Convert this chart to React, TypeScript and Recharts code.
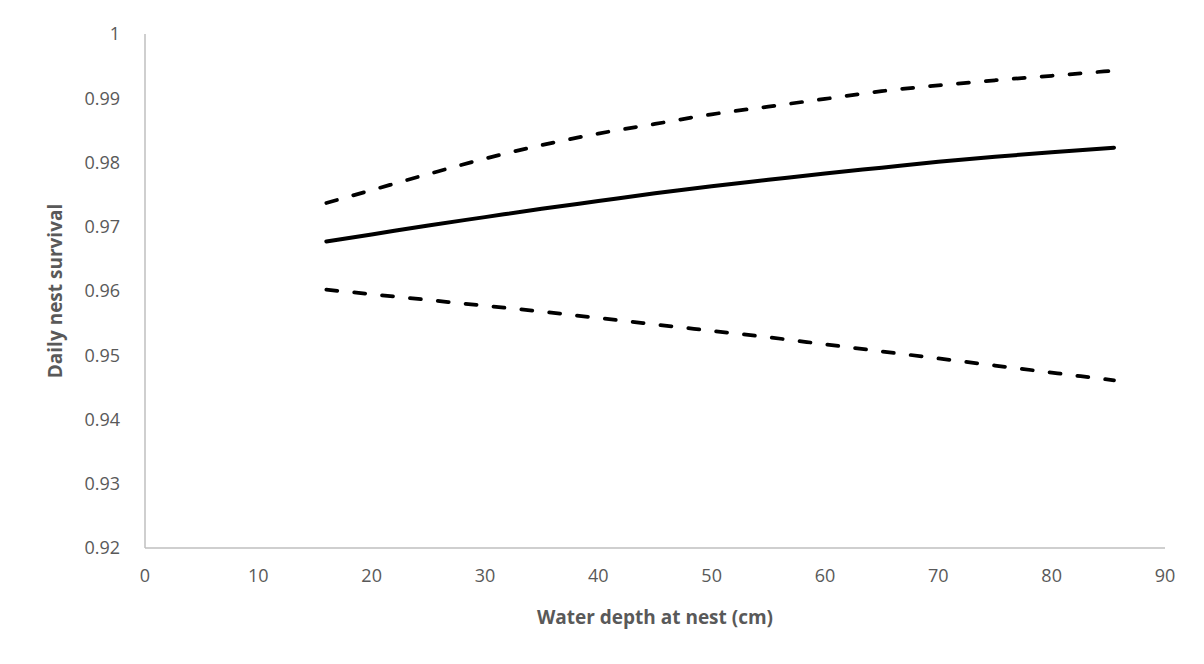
import { LineChart, XAxis, YAxis, Line, Label } from "recharts"

// water depth at nest (cm)
const depth = [16, 20, 25, 30, 35, 40, 45, 50, 55, 60, 65, 70, 75, 80, 85.5]

// daily nest survival estimate and 95% CI
const survival = [0.9677, 0.9688, 0.9702, 0.9715, 0.9728, 0.974, 0.9752, 0.9763, 0.9773, 0.9783, 0.9792, 0.9801, 0.9809, 0.9816, 0.9823]
const upperCI = [0.9737, 0.9757, 0.9782, 0.9806, 0.9827, 0.9845, 0.986, 0.9875, 0.9887, 0.9899, 0.9911, 0.992, 0.9928, 0.9935, 0.9943]
const lowerCI = [0.9602, 0.9595, 0.9586, 0.9577, 0.9568, 0.9558, 0.9548, 0.9538, 0.9528, 0.9517, 0.9506, 0.9495, 0.9484, 0.9473, 0.9461]

const xTicks = [0, 10, 20, 30, 40, 50, 60, 70, 80, 90]
const yTicks = [0.92, 0.93, 0.94, 0.95, 0.96, 0.97, 0.98, 0.99, 1]

const data = depth.map((d, i) => ({
  depth: d,
  survival: survival[i],
  upper: upperCI[i],
  lower: lowerCI[i],
}))

const font = '"Open Sans", sans-serif'
const grey = '#595959'

export default function App() {
  return (
    <div style={{ marginLeft: -2, marginTop: -3, width: 1190, height: 660, border: '1px solid #d9d9d9', fontFamily: font }}>
      <LineChart width={1190} height={652} data={data}
        margin={{ top: 28, right: 32, left: 0, bottom: 30 }}>
        <XAxis dataKey="depth" type="number" domain={[0, 90]} ticks={xTicks}
          tickLine={false} tickSize={0} tickMargin={21}
          axisLine={{ stroke: '#bfbfbf', strokeWidth: 1.5 }}
          tick={{ fill: grey, fontSize: 18, fontFamily: font }} height={80}>
          <Label value="Water depth at nest (cm)" position="insideBottom" offset={4}
            style={{ fill: grey, fontSize: 19, fontWeight: 700, fontFamily: font }} />
        </XAxis>
        <YAxis type="number" domain={[0.92, 1]} ticks={yTicks} width={138}
          tickLine={false} tickSize={0} tickMargin={25}
          axisLine={{ stroke: '#bfbfbf', strokeWidth: 1.5 }}
          tick={{ fill: grey, fontSize: 18, fontFamily: font }}>
          <Label value="Daily nest survival" angle={-90} position="insideLeft" offset={48}
            style={{ textAnchor: 'middle', fill: grey, fontSize: 19, fontWeight: 700, fontFamily: font }} />
        </YAxis>
        <Line type="monotone" dataKey="upper" stroke="#000" strokeWidth={3.75} strokeDasharray="11 17"
          strokeLinecap="round" dot={false} isAnimationActive={false} />
        <Line type="monotone" dataKey="survival" stroke="#000" strokeWidth={4}
          strokeLinecap="round" dot={false} isAnimationActive={false} />
        <Line type="monotone" dataKey="lower" stroke="#000" strokeWidth={3.75} strokeDasharray="11 17"
          strokeLinecap="round" dot={false} isAnimationActive={false} />
      </LineChart>
    </div>
  )
}
